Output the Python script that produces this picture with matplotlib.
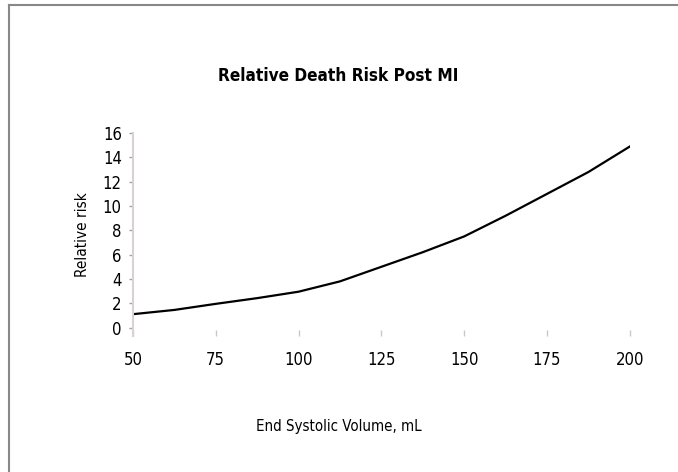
import matplotlib.pyplot as plt
from matplotlib.lines import Line2D

# values
volume = [50, 62.5, 75, 87.5, 100, 112.5, 125, 137.5, 150, 162.5, 175, 187.5, 200]
risk = [1.1, 1.45, 1.95, 2.42, 2.95, 3.8, 5.0, 6.2, 7.5, 9.2, 11.0, 12.8, 14.9]
x_ticks = [50, 75, 100, 125, 150, 175, 200]
y_ticks = [0, 2, 4, 6, 8, 10, 12, 14, 16]

plt.rcParams['font.family'] = ['DejaVu Sans']
plt.rcParams['font.stretch'] = 'condensed'

fig = plt.figure(figsize=(6.78, 4.72), dpi=100)
ax = fig.add_axes([0.196, 0.288, 0.733, 0.43])

ax.plot(volume, risk, color='black', linewidth=1.6)

ax.set_xlim(50, 200)
ax.set_ylim(-0.7, 16)
ax.set_xticks(x_ticks)
ax.set_yticks(y_ticks)

for side in ['top', 'right', 'bottom']:
    ax.spines[side].set_visible(False)
ax.spines['left'].set_color('#d9d2d2')
ax.spines['left'].set_linewidth(1.5)

ax.tick_params(axis='x', direction='in', length=4, width=1, color='#c8c8c8',
               labelsize=12, pad=11)
ax.tick_params(axis='y', direction='out', length=3, width=1, color='#a0a0a0',
               labelsize=12, pad=5)

ax.set_ylabel('Relative risk', fontsize=11, labelpad=9)
fig.text(0.499, 0.097, 'End Systolic Volume, mL', ha='center', va='center', fontsize=10.8)
fig.text(0.499, 0.84, 'Relative Death Risk Post MI', ha='center', va='center',
         fontsize=12.3, fontweight='bold')

# grey frame on top and left edge of the figure
fig.add_artist(Line2D([0.013, 1.0], [0.989, 0.989], color='#888888', linewidth=1.5,
                      transform=fig.transFigure))
fig.add_artist(Line2D([0.013, 0.013], [0.0, 0.989], color='#888888', linewidth=1.5,
                      transform=fig.transFigure))

fig.savefig('out.png', dpi=100)
